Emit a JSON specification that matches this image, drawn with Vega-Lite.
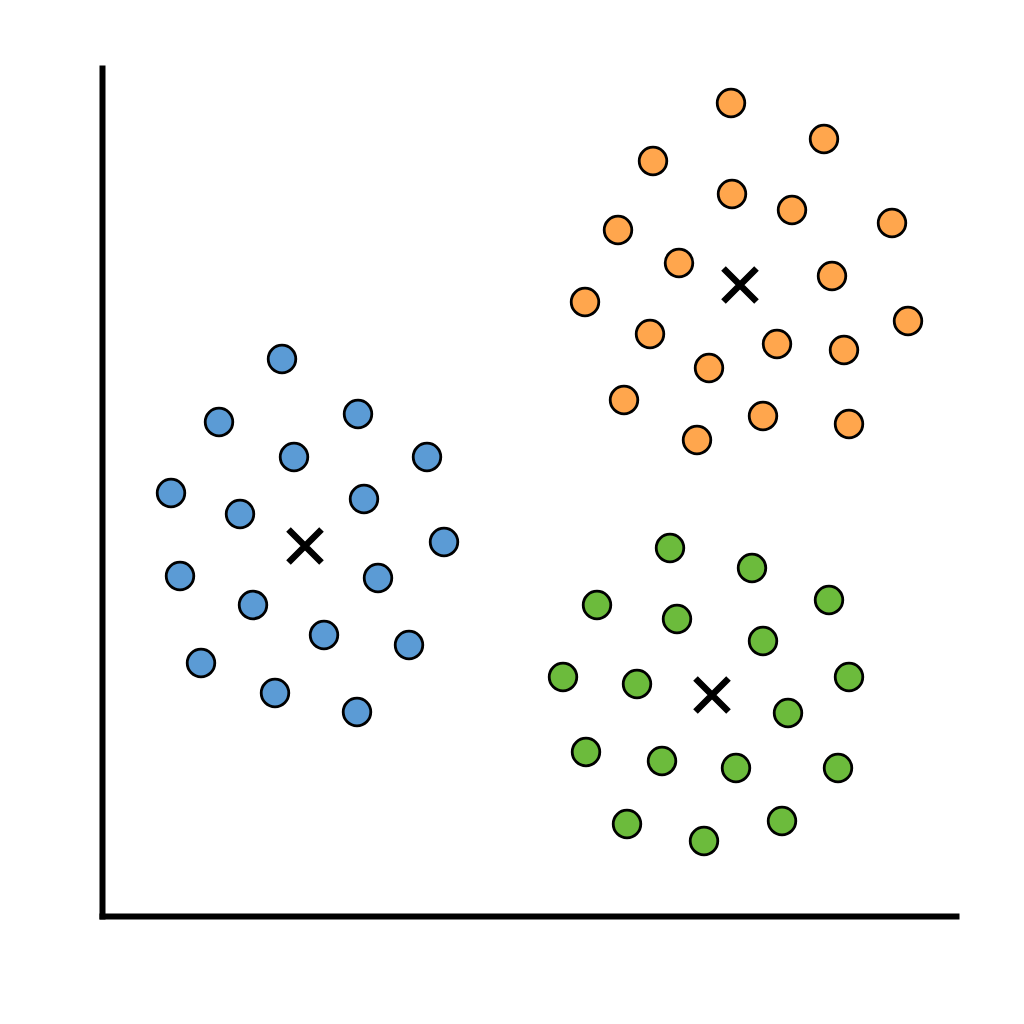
{
  "$schema": "https://vega.github.io/schema/vega-lite/v6.json",
  "autosize": {"type": "none"},
  "padding": {"left": 102, "top": 68, "right": 68, "bottom": 108},
  "width": 854,
  "height": 848,
  "background": "white",
  "config": {"view": {"stroke": null}},
  "datasets": {
    "pts": [
      {"cluster": "A", "x": 282, "y": 359}, {"cluster": "A", "x": 219, "y": 422}, {"cluster": "A", "x": 358, "y": 414},
      {"cluster": "A", "x": 294, "y": 457}, {"cluster": "A", "x": 427, "y": 457}, {"cluster": "A", "x": 171, "y": 493},
      {"cluster": "A", "x": 240, "y": 514}, {"cluster": "A", "x": 364, "y": 499}, {"cluster": "A", "x": 444, "y": 542},
      {"cluster": "A", "x": 180, "y": 576}, {"cluster": "A", "x": 378, "y": 578}, {"cluster": "A", "x": 253, "y": 605},
      {"cluster": "A", "x": 324, "y": 635}, {"cluster": "A", "x": 409, "y": 645}, {"cluster": "A", "x": 201, "y": 663},
      {"cluster": "A", "x": 275, "y": 693}, {"cluster": "A", "x": 357, "y": 712},
      {"cluster": "B", "x": 731, "y": 103}, {"cluster": "B", "x": 824, "y": 139}, {"cluster": "B", "x": 653, "y": 161},
      {"cluster": "B", "x": 732, "y": 194}, {"cluster": "B", "x": 792, "y": 210}, {"cluster": "B", "x": 892, "y": 223},
      {"cluster": "B", "x": 618, "y": 230}, {"cluster": "B", "x": 679, "y": 263}, {"cluster": "B", "x": 832, "y": 276},
      {"cluster": "B", "x": 585, "y": 302}, {"cluster": "B", "x": 908, "y": 321}, {"cluster": "B", "x": 650, "y": 334},
      {"cluster": "B", "x": 777, "y": 344}, {"cluster": "B", "x": 844, "y": 350}, {"cluster": "B", "x": 709, "y": 368},
      {"cluster": "B", "x": 624, "y": 400}, {"cluster": "B", "x": 763, "y": 416}, {"cluster": "B", "x": 849, "y": 424},
      {"cluster": "B", "x": 697, "y": 440},
      {"cluster": "C", "x": 670, "y": 548}, {"cluster": "C", "x": 752, "y": 568}, {"cluster": "C", "x": 597, "y": 605},
      {"cluster": "C", "x": 829, "y": 600}, {"cluster": "C", "x": 677, "y": 619}, {"cluster": "C", "x": 763, "y": 641},
      {"cluster": "C", "x": 563, "y": 677}, {"cluster": "C", "x": 637, "y": 684}, {"cluster": "C", "x": 849, "y": 677},
      {"cluster": "C", "x": 788, "y": 713}, {"cluster": "C", "x": 586, "y": 752}, {"cluster": "C", "x": 662, "y": 761},
      {"cluster": "C", "x": 736, "y": 768}, {"cluster": "C", "x": 838, "y": 768}, {"cluster": "C", "x": 627, "y": 824},
      {"cluster": "C", "x": 704, "y": 841}, {"cluster": "C", "x": 782, "y": 821}
    ],
    "centroids": [
      {"cluster": "A", "x": 305, "y": 546},
      {"cluster": "B", "x": 740, "y": 285},
      {"cluster": "C", "x": 712, "y": 695}
    ]
  },
  "layer": [
    {
      "data": {"name": "pts"},
      "mark": {"type": "point", "shape": "circle", "filled": true, "size": 760, "stroke": "black", "strokeWidth": 2.8, "opacity": 1},
      "encoding": {
        "x": {"field": "x", "type": "quantitative", "scale": {"domain": [102, 956], "nice": false, "zero": false},
              "axis": {"labels": false, "ticks": false, "grid": false, "title": null, "domainColor": "black", "domainWidth": 6, "domainCap": "square"}},
        "y": {"field": "y", "type": "quantitative", "scale": {"domain": [68, 916], "nice": false, "zero": false, "reverse": true},
              "axis": {"labels": false, "ticks": false, "grid": false, "title": null, "domainColor": "black", "domainWidth": 6, "domainCap": "square"}},
        "fill": {"field": "cluster", "type": "nominal", "scale": {"domain": ["A", "B", "C"], "range": ["#5b9bd5", "#ffa64d", "#6cbb3c"]}, "legend": null}
      }
    },
    {
      "data": {"name": "centroids"},
      "mark": {"type": "point", "shape": "M-1,-1L1,1M-1,1L1,-1", "filled": false, "size": 1090, "stroke": "black", "strokeWidth": 6.5, "strokeCap": "butt", "opacity": 1},
      "encoding": {
        "x": {"field": "x", "type": "quantitative"},
        "y": {"field": "y", "type": "quantitative"}
      }
    }
  ]
}
